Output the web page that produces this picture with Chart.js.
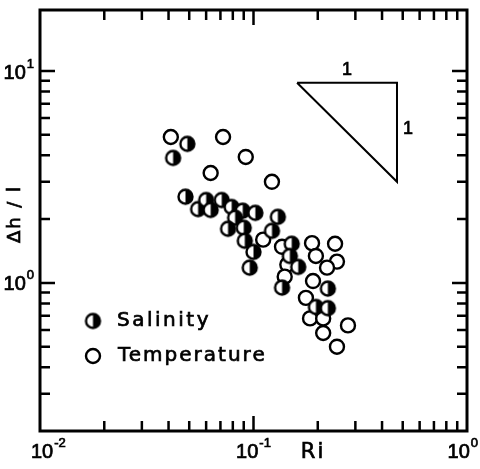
<!DOCTYPE html>
<html lang="en">
<head>
<meta charset="UTF-8">
<title>Δh/l against Ri</title>
<script src="https://cdn.jsdelivr.net/npm/chart.js"></script>
<style>
  html, body { margin: 0; padding: 0; background: #fff; }
</style>
</head>
<body>
<canvas id="riChart" width="480" height="469"></canvas>
<script>
// Salinity runs: Richardson number and Δh/l
const salinityRi = [0.049, 0.042, 0.048, 0.055, 0.060, 0.063, 0.071, 0.079, 0.089, 0.102,
                    0.082, 0.076, 0.090, 0.091, 0.100, 0.096, 0.130, 0.122, 0.151, 0.148,
                    0.162, 0.136, 0.223, 0.196, 0.223];
const salinityDh = [4.53, 3.89, 2.55, 2.23, 2.46, 2.21, 2.46, 2.28, 2.19, 2.14,
                    2.03, 1.80, 1.82, 1.58, 1.40, 1.18, 2.05, 1.76, 1.53, 1.34,
                    1.19, 0.95, 0.94, 0.77, 0.76];

// Temperature runs
const temperatureRi = [0.041, 0.072, 0.092, 0.063, 0.122, 0.111, 0.136, 0.144, 0.140, 0.188,
                       0.241, 0.196, 0.246, 0.221, 0.190, 0.176, 0.184, 0.212, 0.212, 0.277,
                       0.246];
const temperatureDh = [4.88, 4.88, 3.93, 3.30, 3.00, 1.60, 1.48, 1.22, 1.07, 1.54,
                       1.53, 1.34, 1.26, 1.18, 1.02, 0.85, 0.68, 0.68, 0.58, 0.63,
                       0.50];

// slope -1 guide triangle
const triangleRi = [0.16, 0.47, 0.47, 0.16];
const triangleDh = [8.8, 8.8, 3.0, 8.8];

// axis ticks (decades get labels, 2..9 get minor marks)
const xDecades = [0.01, 0.1, 1];
const xTickExps = ['-2', '-1', '0'];
const yDecades = [0.1, 1, 10];
const yTickExps = ['', '0', '1'];
const minorSteps = [2, 3, 4, 5, 6, 7, 8, 9];

const seriesNames = ['Salinity', 'Temperature'];

function toPoints(xs, ys) {
    return xs.map((x, i) => ({ x: x, y: ys[i] }));
}

// half filled marker: left white, right black
function halfMarker(r, lw) {
    const size = Math.ceil(2 * r + lw + 2);
    const c = document.createElement('canvas');
    c.width = size;
    c.height = size;
    const g = c.getContext('2d');
    const m = size / 2;
    g.fillStyle = '#fff';
    g.beginPath();
    g.arc(m, m, r, 0, Math.PI * 2);
    g.fill();
    g.fillStyle = '#000';
    g.beginPath();
    g.arc(m, m, r, -Math.PI / 2, Math.PI / 2);
    g.closePath();
    g.fill();
    g.strokeStyle = '#000';
    g.lineWidth = lw;
    g.beginPath();
    g.arc(m, m, r, 0, Math.PI * 2);
    g.stroke();
    return c;
}

const salMarker = halfMarker(7, 2.4);

const numFont = '"Liberation Sans", Arial, sans-serif';
const textFont = '"DejaVu Sans", sans-serif';

// fill plus a thin stroke, to get the heavier pen weight of the original
function inkText(ctx, s, x, y) {
    ctx.fillText(s, x, y);
    ctx.lineWidth = 0.7;
    ctx.strokeText(s, x, y);
}

function drawPow(ctx, exp, x, y, align) {
    ctx.font = '20px ' + numFont;
    const wb = ctx.measureText('10').width;
    ctx.font = '13px ' + numFont;
    const we = ctx.measureText(exp).width;
    const total = wb + we + 1;
    let left;
    if (align === 'right') left = x - total;
    else left = Math.min(Math.max(x - total / 2, 31), 478 - total);
    ctx.textAlign = 'left';
    ctx.textBaseline = 'middle';
    ctx.font = '20px ' + numFont;
    inkText(ctx, '10', left, y);
    ctx.font = '13px ' + numFont;
    inkText(ctx, exp, left + wb + 1, y - 9);
}

const framePlugin = {
    id: 'frame',
    afterDraw(chart) {
        const ctx = chart.ctx;
        const a = chart.chartArea;
        const xs = chart.scales.x;
        const ys = chart.scales.y;
        const major = 15, minor = 10;
        ctx.save();
        ctx.strokeStyle = '#000';
        ctx.fillStyle = '#000';

        // frame
        ctx.lineWidth = 3;
        ctx.strokeRect(a.left, a.top, a.right - a.left, a.bottom - a.top);

        // inward ticks on all four sides
        ctx.lineWidth = 2.5;
        ctx.beginPath();
        xDecades.forEach(d => {
            [1].concat(minorSteps).forEach(s => {
                const v = d * s;
                if (v <= xs.min || v >= xs.max) return;
                const px = xs.getPixelForValue(v);
                const len = s === 1 ? major : minor;
                ctx.moveTo(px, a.bottom); ctx.lineTo(px, a.bottom - len);
                ctx.moveTo(px, a.top); ctx.lineTo(px, a.top + len);
            });
        });
        yDecades.forEach(d => {
            [1].concat(minorSteps).forEach(s => {
                const v = d * s;
                if (v <= ys.min || v >= ys.max) return;
                const py = ys.getPixelForValue(v);
                const len = s === 1 ? major : minor;
                ctx.moveTo(a.left, py); ctx.lineTo(a.left + len, py);
                ctx.moveTo(a.right, py); ctx.lineTo(a.right - len, py);
            });
        });
        ctx.stroke();

        // tick labels
        xDecades.forEach((d, i) => {
            drawPow(ctx, xTickExps[i], xs.getPixelForValue(d), a.bottom + 21, 'center');
        });
        yDecades.forEach((d, i) => {
            if (!yTickExps[i]) return;
            drawPow(ctx, yTickExps[i], 34, ys.getPixelForValue(d) + 2, 'right');
        });

        // axis titles
        ctx.font = '21px ' + textFont;
        ctx.textAlign = 'center';
        ctx.textBaseline = 'middle';
        ctx.letterSpacing = '2px';
        inkText(ctx, 'Ri', xs.getPixelForValue(0.19), a.bottom + 22);
        ctx.save();
        ctx.translate(15, 214);
        ctx.rotate(-Math.PI / 2);
        ctx.font = '18px ' + textFont;
        ctx.letterSpacing = '2px';
        inkText(ctx, 'Δh / l', 0, 0);
        ctx.restore();
        ctx.letterSpacing = '0px';

        // triangle side labels
        ctx.font = '18px ' + numFont;
        const topMid = xs.getPixelForValue(Math.sqrt(triangleRi[0] * triangleRi[1]));
        inkText(ctx, '1', topMid, ys.getPixelForValue(triangleDh[0]) - 13);
        const sideMid = (ys.getPixelForValue(triangleDh[1]) + ys.getPixelForValue(triangleDh[2])) / 2;
        inkText(ctx, '1', xs.getPixelForValue(triangleRi[1]) + 11, sideMid - 3);

        // legend
        const lx = 93, ly1 = 321, ly2 = 356;
        ctx.drawImage(salMarker, lx - salMarker.width / 2, ly1 - salMarker.height / 2);
        ctx.lineWidth = 2.4;
        ctx.fillStyle = '#fff';
        ctx.beginPath();
        ctx.arc(lx, ly2, 7, 0, Math.PI * 2);
        ctx.fill();
        ctx.stroke();
        ctx.fillStyle = '#000';
        ctx.font = '20px ' + textFont;
        ctx.textAlign = 'left';
        ctx.letterSpacing = '2.5px';
        inkText(ctx, seriesNames[0], 117, ly1);
        ctx.letterSpacing = '2px';
        inkText(ctx, seriesNames[1], 118, ly2);
        ctx.restore();
    }
};

new Chart(document.getElementById('riChart'), {
    type: 'scatter',
    data: {
        datasets: [
            {
                label: seriesNames[0],
                data: toPoints(salinityRi, salinityDh),
                pointStyle: salMarker,
                pointRadius: 7,
                pointHoverRadius: 7
            },
            {
                label: seriesNames[1],
                data: toPoints(temperatureRi, temperatureDh),
                pointStyle: 'circle',
                pointRadius: 7,
                pointHoverRadius: 7,
                backgroundColor: '#fff',
                borderColor: '#000',
                borderWidth: 2.4
            },
            {
                label: 'slope',
                data: toPoints(triangleRi, triangleDh),
                showLine: true,
                borderColor: '#000',
                borderWidth: 2,
                pointRadius: 0,
                fill: false
            }
        ]
    },
    options: {
        responsive: false,
        animation: false,
        layout: { padding: { left: 40, right: 13, top: 10, bottom: 38 } },
        plugins: {
            legend: { display: false },
            tooltip: { enabled: false }
        },
        scales: {
            x: { type: 'logarithmic', min: 0.01, max: 1, display: false },
            y: { type: 'logarithmic', min: 0.2, max: 19.4, display: false }
        }
    },
    plugins: [framePlugin]
});
</script>
</body>
</html>
